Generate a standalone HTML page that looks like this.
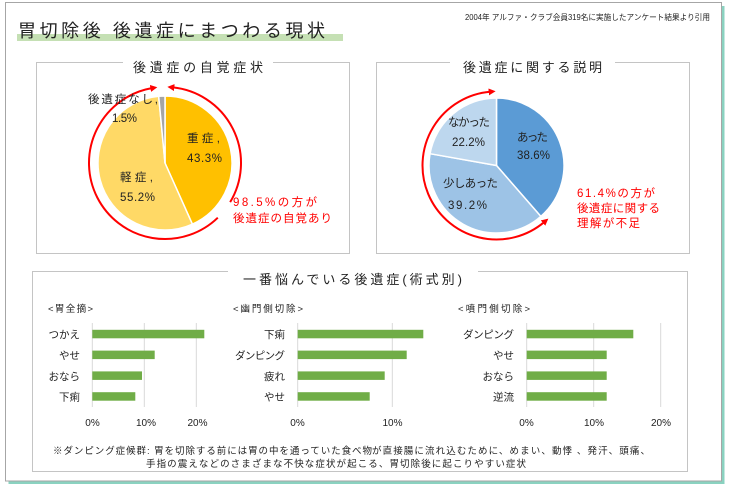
<!DOCTYPE html>
<html lang="ja">
<head>
<meta charset="utf-8">
<style>
  html,body{margin:0;padding:0;background:#fff;}
  body{width:736px;height:487px;overflow:hidden;}
  svg{display:block;}
  text{font-family:"Liberation Sans","Noto Sans CJK JP",sans-serif;fill:#222;}
  .red{fill:#ff0000;}
</style>
</head>
<body>
<svg width="736" height="487" viewBox="0 0 736 487" xmlns="http://www.w3.org/2000/svg">
  <defs>
    <marker id="ah" viewBox="0 0 10 10" refX="2" refY="5" markerWidth="7" markerHeight="7" markerUnits="userSpaceOnUse" orient="auto-start-reverse">
      <path d="M0,0 L10,5 L0,10 z" fill="#ff0000"/>
    </marker>
  </defs>

  <!-- outer frame with teal shadow -->
  <rect x="8.5" y="6" width="716" height="478" fill="#8ad2c0"/>
  <rect x="5.5" y="2.5" width="716" height="478.5" fill="#ffffff" stroke="#a6a6a6" stroke-width="1"/>

  <!-- main title -->
  <rect x="17" y="34" width="326" height="7" fill="#c5e0b4"/>
  <text x="18" y="37" font-size="18" textLength="307" lengthAdjust="spacing">胃切除後 後遺症にまつわる現状</text>
  <text x="465" y="20" font-size="8" textLength="245" lengthAdjust="spacingAndGlyphs">2004年 アルファ・クラブ会員319名に実施したアンケート結果より引用</text>

  <!-- Box 1 -->
  <path d="M123,62.5 H36.5 V253.5 H349.5 V62.5 H273" fill="none" stroke="#c4c4c4" stroke-width="1"/>
  <text x="133" y="72" font-size="13" textLength="130" lengthAdjust="spacing">後遺症の自覚症状</text>

  <!-- Pie 1 -->
  <g stroke="#ffffff" stroke-width="1.5">
    <path d="M165,163 L165,96 A67,67 0 0 1 192.38,224.15 Z" fill="#FFC000"/>
    <path d="M165,163 L192.38,224.15 A67,67 0 1 1 158.69,96.30 Z" fill="#FFD966"/>
    <path d="M165,163 L158.69,96.30 A67,67 0 0 1 165,96 Z" fill="#A5A5A5"/>
  </g>
  <path d="M217.80,217.67 A76,76 0 1 1 151.81,88.16" fill="none" stroke="#ff0000" stroke-width="2" marker-end="url(#ah)"/>
  <path d="M230.15,202.14 A76,76 0 0 0 172.94,87.42" fill="none" stroke="#ff0000" stroke-width="2" marker-end="url(#ah)"/>

  <text x="88" y="103" font-size="11.5" textLength="70" lengthAdjust="spacing">後遺症なし,</text>
  <text x="112" y="122" font-size="11.5" textLength="25" lengthAdjust="spacing">1.5%</text>
  <text x="187" y="142" font-size="11.5" textLength="33" lengthAdjust="spacing">重症,</text>
  <text x="187" y="162" font-size="11.5" textLength="35" lengthAdjust="spacing">43.3%</text>
  <text x="120" y="181" font-size="11.5" textLength="33" lengthAdjust="spacing">軽症,</text>
  <text x="120" y="201" font-size="11.5" textLength="35" lengthAdjust="spacing">55.2%</text>
  <text class="red" x="233" y="206" font-size="11.5" textLength="84" lengthAdjust="spacing">98.5%の方が</text>
  <text class="red" x="233" y="222" font-size="11.5" textLength="99" lengthAdjust="spacing">後遺症の自覚あり</text>

  <!-- Box 2 -->
  <path d="M450,62.5 H376.5 V253.5 H689.5 V62.5 H615" fill="none" stroke="#c4c4c4" stroke-width="1"/>
  <text x="463" y="72" font-size="13" textLength="139" lengthAdjust="spacing">後遺症に関する説明</text>

  <!-- Pie 2 -->
  <g stroke="#ffffff" stroke-width="1.5">
    <path d="M496.5,165.5 L496.5,98 A67.5,67.5 0 0 1 540.82,216.41 Z" fill="#5B9BD5"/>
    <path d="M496.5,165.5 L540.82,216.41 A67.5,67.5 0 0 1 430.04,153.69 Z" fill="#9DC3E6"/>
    <path d="M496.5,165.5 L430.04,153.69 A67.5,67.5 0 0 1 496.5,98 Z" fill="#BDD7EE"/>
  </g>
  <path d="M544.07,222.19 A74,74 0 1 1 490.05,91.78" fill="none" stroke="#ff0000" stroke-width="2" marker-start="url(#ah)" marker-end="url(#ah)"/>

  <text x="517" y="141" font-size="11.5" textLength="31" lengthAdjust="spacing">あった</text>
  <text x="517" y="159" font-size="11.5" textLength="33" lengthAdjust="spacing">38.6%</text>
  <text x="448" y="126" font-size="11.5" textLength="42" lengthAdjust="spacing">なかった</text>
  <text x="452" y="146" font-size="11.5" textLength="33" lengthAdjust="spacing">22.2%</text>
  <text x="443" y="187" font-size="11.5" textLength="55" lengthAdjust="spacing">少しあった</text>
  <text x="448" y="209" font-size="11.5" textLength="39" lengthAdjust="spacing">39.2%</text>
  <text class="red" x="577" y="197" font-size="11.5" textLength="78" lengthAdjust="spacing">61.4%の方が</text>
  <text class="red" x="577" y="212" font-size="11.5" textLength="83" lengthAdjust="spacing">後遺症に関する</text>
  <text class="red" x="577" y="227" font-size="11.5" textLength="63" lengthAdjust="spacing">理解が不足</text>

  <!-- Box 3 -->
  <path d="M228,271.5 H32.5 V471.5 H687.5 V271.5 H478" fill="none" stroke="#c4c4c4" stroke-width="1"/>
  <text x="243" y="284" font-size="13" textLength="219" lengthAdjust="spacing">一番悩んでいる後遺症(術式別)</text>

  <!-- group labels -->
  <text x="48" y="312" font-size="9.5" textLength="45" lengthAdjust="spacing">&lt;胃全摘&gt;</text>
  <text x="233" y="312" font-size="9.5" textLength="70" lengthAdjust="spacing">&lt;幽門側切除&gt;</text>
  <text x="458" y="312" font-size="9.5" textLength="72" lengthAdjust="spacing">&lt;噴門側切除&gt;</text>

  <!-- gridlines -->
  <g stroke="#d9d9d9" stroke-width="1">
    <line x1="92.3" y1="323" x2="92.3" y2="407"/>
    <line x1="144.3" y1="323" x2="144.3" y2="407"/>
    <line x1="196.3" y1="323" x2="196.3" y2="407"/>
    <line x1="297.7" y1="323" x2="297.7" y2="407"/>
    <line x1="392.3" y1="323" x2="392.3" y2="407"/>
    <line x1="526.7" y1="323" x2="526.7" y2="407"/>
    <line x1="593.7" y1="323" x2="593.7" y2="407"/>
    <line x1="660.7" y1="323" x2="660.7" y2="407"/>
  </g>

  <!-- bars chart 1 -->
  <g fill="#70AD47">
    <rect x="92.3" y="329.8" width="112" height="8.5"/>
    <rect x="92.3" y="350.6" width="62.4" height="8.5"/>
    <rect x="92.3" y="371.4" width="49.7" height="8.5"/>
    <rect x="92.3" y="392.2" width="43" height="8.5"/>
  <!-- chart 2 -->
    <rect x="297.7" y="329.8" width="125.6" height="8.5"/>
    <rect x="297.7" y="350.6" width="109" height="8.5"/>
    <rect x="297.7" y="371.4" width="87" height="8.5"/>
    <rect x="297.7" y="392.2" width="72" height="8.5"/>
  <!-- chart 3 -->
    <rect x="526.7" y="329.8" width="106.6" height="8.5"/>
    <rect x="526.7" y="350.6" width="80" height="8.5"/>
    <rect x="526.7" y="371.4" width="80" height="8.5"/>
    <rect x="526.7" y="392.2" width="80" height="8.5"/>
  </g>

  <!-- category labels -->
  <g font-size="10.5" text-anchor="end">
    <text x="80" y="338">つかえ</text>
    <text x="80" y="359">やせ</text>
    <text x="80" y="380">おなら</text>
    <text x="80" y="400.5">下痢</text>

    <text x="285" y="338">下痢</text>
    <text x="285" y="359" textLength="50" lengthAdjust="spacing">ダンピング</text>
    <text x="285" y="380">疲れ</text>
    <text x="285" y="400.5">やせ</text>

    <text x="514" y="338" textLength="51" lengthAdjust="spacing">ダンピング</text>
    <text x="514" y="359">やせ</text>
    <text x="514" y="380">おなら</text>
    <text x="514" y="400.5">逆流</text>
  </g>

  <!-- tick labels -->
  <g font-size="10" text-anchor="middle">
    <text x="92.5" y="426">0%</text>
    <text x="146" y="426">10%</text>
    <text x="197.5" y="426">20%</text>
    <text x="297.5" y="426">0%</text>
    <text x="392.5" y="426">10%</text>
    <text x="526.5" y="426">0%</text>
    <text x="594" y="426">10%</text>
    <text x="661" y="426">20%</text>
  </g>

  <!-- footnote -->
  <text x="53" y="454" font-size="9.5" textLength="319" lengthAdjust="spacing">※ダンピング症候群: 胃を切除する前には胃の中を通っていた食べ物</text>
  <text x="372" y="454" font-size="9.5" textLength="278" lengthAdjust="spacing">が直接腸に流れ込むために、めまい、動悸 、発汗、頭痛、</text>
  <text x="146" y="467" font-size="9.5" textLength="380" lengthAdjust="spacing">手指の震えなどのさまざまな不快な症状が起こる、胃切除後に起こりやすい症状</text>
</svg>
</body>
</html>
